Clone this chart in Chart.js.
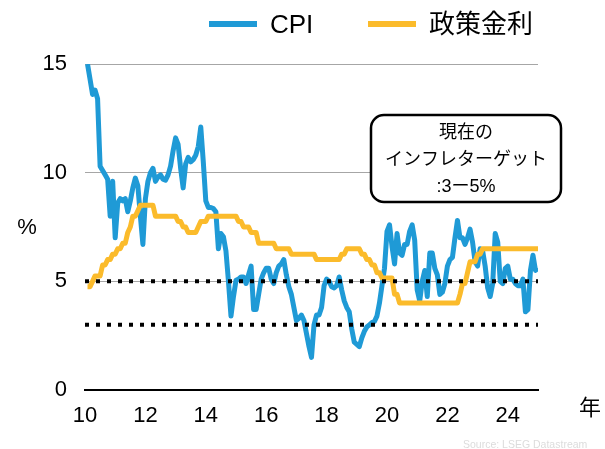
<!DOCTYPE html>
<html lang="ja">
<head>
<meta charset="utf-8">
<script src="https://cdn.jsdelivr.net/npm/chart.js@4.4.1/dist/chart.umd.min.js"></script>
<style>
  html, body { margin: 0; padding: 0; background: #fff; }
  #wrap { width: 605px; height: 449px; }
</style>
</head>
<body>
<div id="wrap"><canvas id="myChart" width="605" height="449"></canvas></div>
<script>
// 月次データ（2010年1月〜2024年12月）
const startYear = 10;

const cpi = [
  15.0, 14.3, 13.6, 13.8, 13.4, 10.3, 10.1, 9.9, 9.7, 8.0, 9.6, 7.0,      // 2010
  8.6, 8.8, 8.7, 8.8, 8.2, 8.7, 9.3, 9.75, 9.4, 8.0, 6.7, 8.8,            // 2011
  9.6, 10.0, 10.2, 9.6, 9.8, 9.9, 9.7, 9.65, 9.9, 10.3, 11.0, 11.6,      // 2012
  11.3, 10.2, 9.3, 10.4, 10.7, 10.5, 10.6, 10.8, 11.2, 12.1, 10.5, 8.7,  // 2013
  8.4, 8.4, 8.35, 8.2, 6.5, 7.2, 7.05, 6.4, 5.0, 3.4, 4.3, 5.05,         // 2014
  5.1, 5.2, 5.2, 4.9, 5.3, 5.7, 3.7, 3.7, 4.4, 5.1, 5.4, 5.6,            // 2015
  5.6, 5.1, 4.9, 5.4, 5.7, 5.8, 6.0, 5.3, 4.75, 4.4, 3.8, 3.2,           // 2016
  3.3, 3.45, 3.2, 2.6, 2.0, 1.5, 3.0, 3.45, 3.45, 3.8, 4.8, 5.1,         // 2017
  5.0, 4.75, 4.7, 4.8, 5.2, 4.6, 4.1, 3.8, 3.6, 2.8, 2.2, 2.1,           // 2018
  2.0, 2.4, 2.7, 2.9, 3.0, 3.1, 3.15, 3.4, 4.0, 4.8, 5.6, 7.3,           // 2019
  7.6, 6.6, 5.8, 7.2, 6.3, 6.2, 6.7, 6.7, 7.3, 7.6, 6.9, 4.6,            // 2020
  4.1, 5.0, 5.5, 4.3, 6.3, 6.3, 5.6, 5.3, 4.4, 4.5, 4.9, 5.7,            // 2021
  6.0, 6.1, 7.0, 7.8, 7.0, 7.0, 6.7, 7.0, 7.4, 6.8, 5.9, 5.7,            // 2022
  6.5, 6.4, 5.7, 4.7, 4.3, 4.9, 7.2, 6.8, 5.0, 4.9, 5.6, 5.7,            // 2023
  5.1, 5.1, 4.9, 4.8, 4.8, 5.1, 3.6, 3.7, 5.5, 6.2, 5.5, 5.6             // 2024
];

const policyRate = [
  4.75, 4.75, 5.0, 5.25, 5.25, 5.25, 5.75, 5.75, 6.0, 6.0, 6.25, 6.25,   // 2010
  6.5, 6.5, 6.75, 6.75, 7.25, 7.5, 8.0, 8.0, 8.25, 8.5, 8.5, 8.5,        // 2011
  8.5, 8.5, 8.5, 8.0, 8.0, 8.0, 8.0, 8.0, 8.0, 8.0, 8.0, 8.0,            // 2012
  7.75, 7.75, 7.5, 7.5, 7.25, 7.25, 7.25, 7.25, 7.5, 7.75, 7.75, 7.75,   // 2013
  8.0, 8.0, 8.0, 8.0, 8.0, 8.0, 8.0, 8.0, 8.0, 8.0, 8.0, 8.0,            // 2014
  7.75, 7.75, 7.5, 7.5, 7.5, 7.25, 7.25, 7.25, 6.75, 6.75, 6.75, 6.75,   // 2015
  6.75, 6.75, 6.75, 6.5, 6.5, 6.5, 6.5, 6.5, 6.5, 6.25, 6.25, 6.25,      // 2016
  6.25, 6.25, 6.25, 6.25, 6.25, 6.25, 6.25, 6.0, 6.0, 6.0, 6.0, 6.0,     // 2017
  6.0, 6.0, 6.0, 6.0, 6.0, 6.25, 6.25, 6.5, 6.5, 6.5, 6.5, 6.5,          // 2018
  6.5, 6.25, 6.25, 6.0, 6.0, 5.75, 5.75, 5.4, 5.4, 5.15, 5.15, 5.15,     // 2019
  5.15, 5.15, 4.4, 4.4, 4.0, 4.0, 4.0, 4.0, 4.0, 4.0, 4.0, 4.0,          // 2020
  4.0, 4.0, 4.0, 4.0, 4.0, 4.0, 4.0, 4.0, 4.0, 4.0, 4.0, 4.0,            // 2021
  4.0, 4.0, 4.0, 4.0, 4.4, 4.9, 4.9, 5.4, 5.9, 5.9, 5.9, 6.25,           // 2022
  6.25, 6.5, 6.5, 6.5, 6.5, 6.5, 6.5, 6.5, 6.5, 6.5, 6.5, 6.5,           // 2023
  6.5, 6.5, 6.5, 6.5, 6.5, 6.5, 6.5, 6.5, 6.5, 6.5, 6.5, 6.5             // 2024
];

const seriesNames = ['CPI', '政策金利'];
const targetBand = [3, 5];          // インフレターゲット
const xTicks = [10, 12, 14, 16, 18, 20, 22, 24];
const yTicks = [0, 5, 10, 15];
const xRange = [10, 25];
const boxLines = ['現在の', 'インフレターゲット', ':3ー5%'];
const yUnit = '%';
const xUnit = '年';
const sourceText = 'Source: LSEG Datastream';

const blue = '#1f9ad6';
const orange = '#fbbb2b';
const latin = '"Liberation Sans", Arial, "Noto Sans CJK JP", sans-serif';

// 月末にプロット
const toPoints = arr => arr.map((v, i) => ({ x: startYear + (i + 1) / 12, y: v }));

// 凡例・注記・単位など
const decorations = {
  id: 'decorations',
  afterDraw(chart) {
    const ctx = chart.ctx;
    ctx.save();

    // 凡例
    const legend = [
      { name: seriesNames[0], color: blue, x: 209 },
      { name: seriesNames[1], color: orange, x: 368 }
    ];
    ctx.font = '26px ' + latin;
    ctx.textBaseline = 'alphabetic';
    ctx.textAlign = 'left';
    legend.forEach(item => {
      ctx.strokeStyle = item.color;
      ctx.lineWidth = 6;
      ctx.beginPath();
      ctx.moveTo(item.x, 24);
      ctx.lineTo(item.x + 48, 24);
      ctx.stroke();
      ctx.fillStyle = '#000';
      ctx.fillText(item.name, item.x + 61, 33);
    });

    // 単位
    ctx.font = '22px ' + latin;
    ctx.textAlign = 'center';
    ctx.textBaseline = 'middle';
    ctx.fillText(yUnit, 27, 228);
    ctx.fillText(xUnit, 590, 409);

    // 注記ボックス
    const bx = 371, by = 115, bw = 190, bh = 87;
    ctx.beginPath();
    ctx.roundRect(bx, by, bw, bh, 13);
    ctx.fillStyle = '#fff';
    ctx.fill();
    ctx.lineWidth = 2.5;
    ctx.strokeStyle = '#000';
    ctx.stroke();
    ctx.fillStyle = '#000';
    ctx.font = '18px ' + latin;
    boxLines.forEach((line, i) => {
      ctx.fillText(line, bx + bw / 2, 133 + i * 27);
    });

    // 出所
    ctx.font = '10.5px ' + latin;
    ctx.fillStyle = '#dcdcdc';
    ctx.textAlign = 'left';
    ctx.fillText(sourceText, 463, 445);

    ctx.restore();
  }
};

const ctx = document.getElementById('myChart').getContext('2d');
const myChart = new Chart(ctx, {
  type: 'line',
  data: {
    datasets: [
      {
        label: seriesNames[0],
        data: toPoints(cpi),
        borderColor: blue,
        borderWidth: 5,
        borderJoinStyle: 'round',
        pointRadius: 0,
        tension: 0,
        order: 3
      },
      {
        label: seriesNames[1],
        data: toPoints(policyRate),
        borderColor: orange,
        borderWidth: 5,
        borderJoinStyle: 'round',
        pointRadius: 0,
        tension: 0,
        order: 2
      },
      ...targetBand.map(v => ({
        label: 'target ' + v,
        data: [{ x: xRange[0], y: v }, { x: xRange[1], y: v }],
        borderColor: '#000',
        borderWidth: 4,
        borderDash: [4, 7],
        borderCapStyle: 'butt',
        pointRadius: 0,
        order: 1
      }))
    ]
  },
  options: {
    responsive: false,
    animation: false,
    devicePixelRatio: 1,
    layout: {
      padding: { top: 64, right: 67, left: 0, bottom: 0 }
    },
    plugins: {
      legend: { display: false },
      tooltip: { enabled: false }
    },
    scales: {
      x: {
        type: 'linear',
        min: xRange[0],
        max: xRange[1],
        afterBuildTicks: scale => { scale.ticks = xTicks.map(v => ({ value: v })); },
        afterFit: scale => { scale.height = 59; },
        grid: { display: false },
        border: { display: true, color: '#000', width: 2 },
        ticks: {
          color: '#000',
          padding: 5,
          maxRotation: 0,
          font: { size: 22, family: latin },
          callback: v => String(v)
        }
      },
      y: {
        min: 0,
        max: 15,
        afterBuildTicks: scale => { scale.ticks = yTicks.map(v => ({ value: v })); },
        afterFit: scale => { scale.width = 85; },
        border: { display: false },
        grid: {
          drawTicks: false,
          color: c => (c.tick && c.tick.value === 0) ? 'rgba(0,0,0,0)' : '#a6a6a6',
          lineWidth: 1
        },
        ticks: {
          color: '#000',
          padding: 18,
          font: { size: 22, family: latin },
          callback: v => String(v)
        }
      }
    }
  },
  plugins: [decorations]
});
</script>
</body>
</html>
